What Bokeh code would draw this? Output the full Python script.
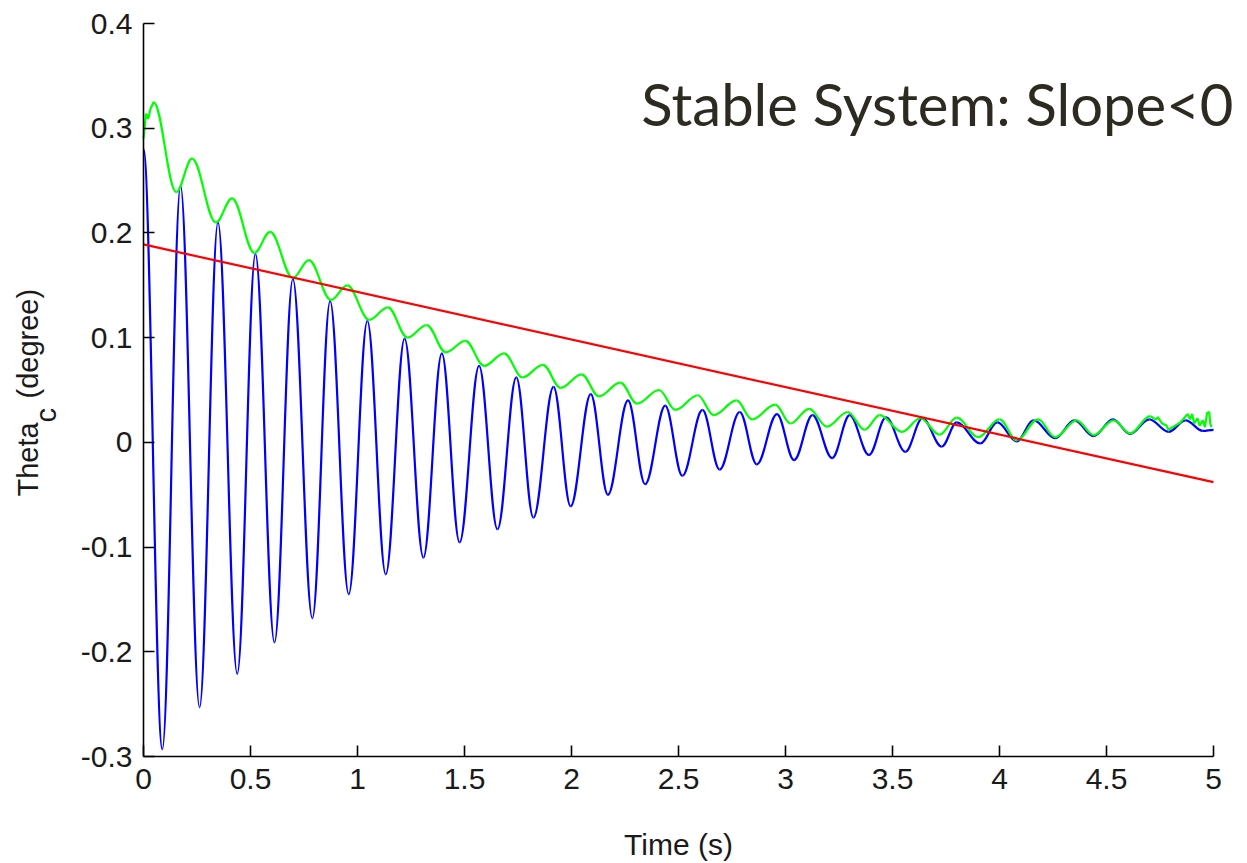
import numpy as np
from bokeh.plotting import figure
from bokeh.models import Range1d, FixedTicker, CustomJSTickFormatter, Label
from bokeh.embed import file_html
from bokeh.resources import INLINE

# ---------------- data ----------------
x_ticks = [0, 0.5, 1, 1.5, 2, 2.5, 3, 3.5, 4, 4.5, 5]
x_tick_labels = ["0", "0.5", "1", "1.5", "2", "2.5", "3", "3.5", "4", "4.5", "5"]
y_ticks = [-0.3, -0.2, -0.1, 0, 0.1, 0.2, 0.3, 0.4]
y_tick_labels = ["-0.3", "-0.2", "-0.1", "0", "0.1", "0.2", "0.3", "0.4"]

# blue response: successive extrema (time, value)
blue_t = [0.0, 0.088, 0.173, 0.262, 0.348, 0.438, 0.523, 0.612, 0.698, 0.789,
          0.872, 0.959, 1.046, 1.132, 1.220, 1.308, 1.394, 1.477, 1.568, 1.654,
          1.742, 1.822, 1.916, 1.996, 2.090, 2.170, 2.264, 2.344, 2.438, 2.518,
          2.612, 2.692, 2.786, 2.866, 2.960, 3.040, 3.126, 3.218, 3.300, 3.390,
          3.470, 3.560, 3.640, 3.730, 3.800, 3.910, 3.990, 4.080, 4.160, 4.260,
          4.350, 4.440, 4.530, 4.610, 4.700, 4.790, 4.870, 4.950, 5.0]
blue_v = [0.280, -0.293, 0.245, -0.253, 0.210, -0.221, 0.180, -0.191, 0.156, -0.168,
          0.135, -0.145, 0.116, -0.126, 0.099, -0.110, 0.085, -0.0955, 0.073, -0.083,
          0.062, -0.072, 0.053, -0.061, 0.046, -0.050, 0.040, -0.040, 0.035, -0.032,
          0.031, -0.026, 0.029, -0.021, 0.027, -0.017, 0.026, -0.015, 0.026, -0.012,
          0.024, -0.009, 0.023, -0.004, 0.019, -0.001, 0.019, 0.001, 0.021, 0.004,
          0.021, 0.006, 0.022, 0.008, 0.022, 0.010, 0.021, 0.011, 0.012]

# green curve: start wiggle, then extrema, then noisy tail
green_head_t = [0.0, 0.012, 0.022, 0.032, 0.047]
green_head_v = [0.290, 0.314, 0.309, 0.318, 0.325]
green_t = [0.047, 0.153, 0.227, 0.338, 0.414, 0.518, 0.592, 0.698, 0.773, 0.876,
           0.952, 1.055, 1.142, 1.234, 1.323, 1.413, 1.504, 1.592, 1.685, 1.771,
           1.866, 1.950, 2.047, 2.128, 2.228, 2.307, 2.409, 2.486, 2.590, 2.665,
           2.771, 2.844, 2.952, 3.023, 3.110, 3.194, 3.290, 3.370, 3.440, 3.545,
           3.630, 3.720, 3.800, 3.900, 4.000, 4.080, 4.180, 4.260, 4.360, 4.440,
           4.533, 4.610, 4.705]
green_v = [0.325, 0.239, 0.271, 0.210, 0.233, 0.181, 0.201, 0.157, 0.174, 0.136,
           0.150, 0.117, 0.129, 0.100, 0.112, 0.086, 0.097, 0.073, 0.085, 0.062,
           0.074, 0.052, 0.065, 0.044, 0.057, 0.037, 0.050, 0.031, 0.045, 0.026,
           0.040, 0.022, 0.036, 0.018, 0.032, 0.015, 0.029, 0.012, 0.026, 0.010,
           0.023, 0.0073, 0.0236, 0.005, 0.022, 0.002, 0.022, 0.005, 0.021, 0.007,
           0.021, 0.0086, 0.025]
green_tail_t = [4.705, 4.730, 4.740, 4.760, 4.780, 4.790, 4.810, 4.845, 4.870, 4.880,
                4.890, 4.900, 4.910, 4.925, 4.935, 4.950, 4.960, 4.970, 4.980, 4.985, 4.990]
green_tail_v = [0.025, 0.0217, 0.024, 0.018, 0.016, 0.012, 0.0146, 0.019, 0.025, 0.027,
                0.022, 0.027, 0.018, 0.023, 0.016, 0.021, 0.0146, 0.028, 0.029, 0.018, 0.0146]

# red fitted line
red_t = [0.0, 5.0]
red_v = [0.189, -0.038]

title_text = "Stable System: Slope<0"
ylabel_main = "Theta"
ylabel_sub = "c"
ylabel_rest = "(degree)"
xlabel_text = "Time (s)"

# ---------------- geometry (canvas pixels) ----------------
W, H = 1240, 862
FX0, FX1 = 143.0, 1213.0      # pixel of x = 0 and x = 5
FY0, FY1 = 756.0, 23.0        # pixel of y = -0.3 and y = 0.4
sx = (FX1 - FX0) / 5.0
sy = (FY0 - FY1) / 0.7

def px_to_x(px):
    return (px - FX0) / sx

def py_to_y(py):
    return -0.3 + (FY0 - py) / sy

p = figure(width=W, height=H, title=None,
           x_range=Range1d(px_to_x(0), px_to_x(W)), y_range=Range1d(py_to_y(H), py_to_y(0)),
           output_backend="svg", toolbar_location=None,
           min_border_left=0, min_border_right=0, min_border_top=0, min_border_bottom=0)
p.outline_line_color = None
p.xgrid.visible = False
p.ygrid.visible = False
p.background_fill_color = "white"
p.border_fill_color = "white"

fmt_code = """
const i = tv.findIndex(t => Math.abs(t - tick) < 1e-9);
return i >= 0 ? lab[i] : "";
"""
p.xaxis.ticker = FixedTicker(ticks=x_ticks)
p.yaxis.ticker = FixedTicker(ticks=y_ticks)
p.xaxis.formatter = CustomJSTickFormatter(args=dict(tv=x_ticks, lab=x_tick_labels), code=fmt_code)
p.yaxis.formatter = CustomJSTickFormatter(args=dict(tv=y_ticks, lab=y_tick_labels), code=fmt_code)
p.xaxis.bounds = (x_ticks[0], x_ticks[-1])
p.yaxis.bounds = (y_ticks[0], y_ticks[-1])
p.xaxis.fixed_location = y_ticks[0]
p.yaxis.fixed_location = x_ticks[0]

for ax in (p.xaxis, p.yaxis):
    ax.axis_line_color = "black"
    ax.axis_line_width = 1.6
    ax.major_tick_line_color = "black"
    ax.major_tick_line_width = 1.6
    ax.major_tick_in = 11
    ax.major_tick_out = 0
    ax.minor_tick_line_color = None
    ax.major_label_text_font = "Liberation Sans"
    ax.major_label_text_font_size = "30px"
    ax.major_label_text_color = "#1a1a1a"

p.xaxis.major_label_standoff = 12
p.yaxis.major_label_standoff = 11
p.xaxis.axis_label = xlabel_text
p.xaxis.axis_label_text_font = "Liberation Sans"
p.xaxis.axis_label_text_font_size = "30px"
p.xaxis.axis_label_text_font_style = "normal"
p.xaxis.axis_label_text_color = "#1a1a1a"
p.xaxis.axis_label_standoff = 36

# ---------------- curves ----------------
def bezier_args(t, v, k=0.3634):
    t = np.asarray(t, dtype=float)
    v = np.asarray(v, dtype=float)
    x0, x1 = t[:-1], t[1:]
    y0, y1 = v[:-1], v[1:]
    dx = x1 - x0
    return dict(x0=x0, y0=y0, x1=x1, y1=y1,
                cx0=x0 + k * dx, cy0=y0,
                cx1=x1 - k * dx, cy1=y1)

p.bezier(**bezier_args(blue_t, blue_v), line_color="#0000ff", line_width=2.2)

p.line(green_head_t, green_head_v, line_color="#00ff00", line_width=2.2)
p.bezier(**bezier_args(green_t, green_v), line_color="#00ff00", line_width=2.2)
p.line(green_tail_t, green_tail_v, line_color="#00ff00", line_width=2.2)

p.line(red_t, red_v, line_color="#ff0000", line_width=2.2)

# ---------------- texts ----------------
ang = np.pi / 2
lab_font = dict(text_font="Liberation Sans", text_font_size="29px", text_color="#1a1a1a",
                text_align="left", text_baseline="middle", angle=ang)
p.add_layout(Label(x=px_to_x(27.5), y=py_to_y(496), text=ylabel_main, **lab_font))
p.add_layout(Label(x=px_to_x(45.5), y=py_to_y(422), text=ylabel_sub, **lab_font))
p.add_layout(Label(x=px_to_x(27.5), y=py_to_y(398), text=ylabel_rest, **lab_font))

p.add_layout(Label(x=px_to_x(1233), y=py_to_y(102.6), text=title_text,
                   text_font="Lato", text_font_size="58px", text_color="#2d2a21",
                   text_align="right", text_baseline="middle"))

open("out.html", "w").write(file_html(p, INLINE))
